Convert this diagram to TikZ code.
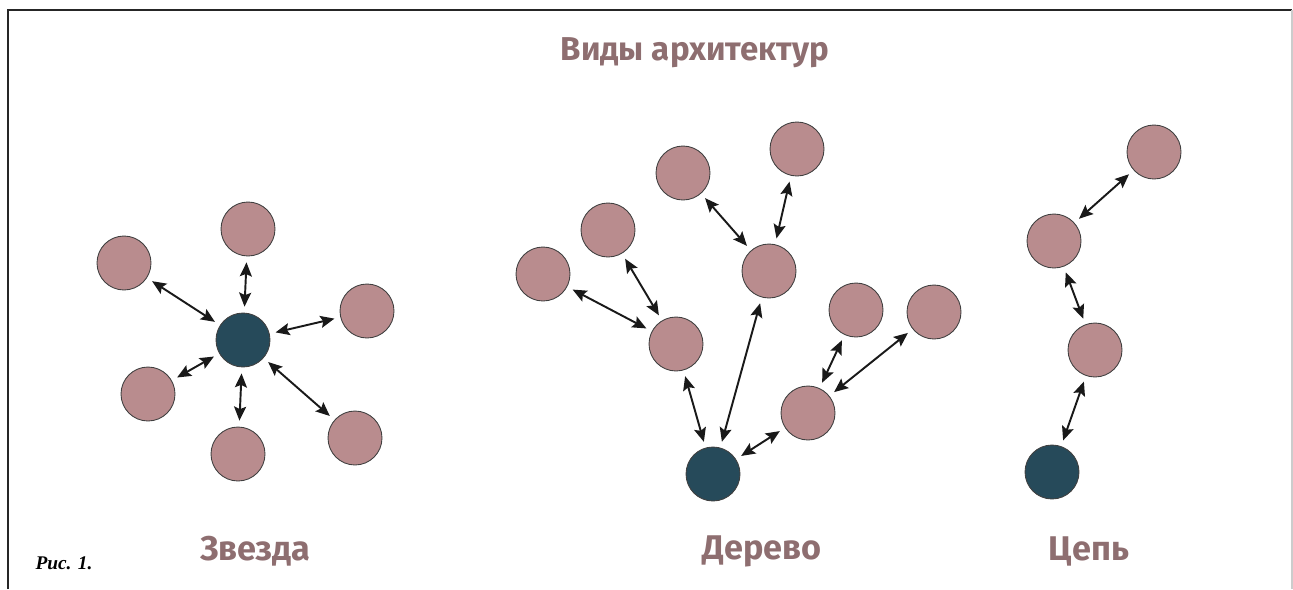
\documentclass[tikz,border=0pt]{standalone}
\usepackage{fontspec}
\setmainfont{Liberation Serif}
\newfontfamily\labfont{Fira Sans}
\usetikzlibrary{arrows.meta}
\definecolor{leaf}{HTML}{B98C8E}
\definecolor{hub}{HTML}{264A5A}
\definecolor{ttl}{HTML}{8E6E70}
\tikzset{
  leafnode/.style={circle,draw=black!75,line width=0.5pt,fill=leaf,minimum size=1.08cm,inner sep=0pt},
  hubnode/.style={circle,draw=black!75,line width=0.5pt,fill=hub,minimum size=1.08cm,inner sep=0pt},
  link/.style={{Stealth[length=0.28cm,width=0.24cm,inset=0.05cm]}-{Stealth[length=0.28cm,width=0.24cm,inset=0.05cm]},line width=1.1pt,black!90,shorten >=0.12cm,shorten <=0.12cm},
  bigtitle/.style={text=ttl,font=\labfont\bfseries\fontsize{18.8}{22}\selectfont},
  grouplabel/.style={text=ttl,font=\labfont\bfseries\fontsize{19.5}{24}\selectfont}
}
\begin{document}
\begin{tikzpicture}[x=0.02cm,y=-0.02cm]
\useasboundingbox (0,0) rectangle (1293,589);
\draw[line width=1pt,black!85] (8,589) -- (8,10) -- (1292,10);
\draw[line width=0.6pt,black!20] (1292,10) -- (1292,589);
\node[bigtitle] (title) at (695,53) {Виды архитектур};
% Star
\node[hubnode] (s0) at (243,340) {};
\node[leafnode] (s1) at (248,229) {};
\node[leafnode] (s2) at (124,263) {};
\node[leafnode] (s3) at (367,311) {};
\node[leafnode] (s4) at (148,394) {};
\node[leafnode] (s5) at (238,454) {};
\node[leafnode] (s6) at (355,438) {};
\foreach \n in {s1,s2,s3,s4,s5,s6} \draw[link] (s0) -- (\n);
% Tree
\node[hubnode] (t0) at (713,474) {};
\node[leafnode] (t1) at (808,413) {};
\node[leafnode] (t2) at (676,344) {};
\node[leafnode] (t3) at (769,271) {};
\node[leafnode] (t4) at (608,230) {};
\node[leafnode] (t5) at (543,274) {};
\node[leafnode] (t6) at (683,173) {};
\node[leafnode] (t7) at (797,149) {};
\node[leafnode] (t8) at (856,310) {};
\node[leafnode] (t9) at (934,312) {};
\draw[link] (t0) -- (t1);
\draw[link] (t0) -- (t2);
\draw[link] (t0) -- (t3);
\draw[link] (t2) -- (t4);
\draw[link] (t2) -- (t5);
\draw[link] (t3) -- (t6);
\draw[link] (t3) -- (t7);
\draw[link] (t1) -- (t8);
\draw[link] (t1) -- (t9);
% Chain
\node[hubnode] (c0) at (1052,472) {};
\node[leafnode] (c1) at (1095,350) {};
\node[leafnode] (c2) at (1054,241) {};
\node[leafnode] (c3) at (1154,152) {};
\draw[link] (c0) -- (c1);
\draw[link] (c1) -- (c2);
\draw[link] (c2) -- (c3);
% Labels
\node[grouplabel] (l1) at (255,551) {Звезда};
\node[grouplabel] (l2) at (762,551) {Дерево};
\node[grouplabel] (l3) at (1089,551) {Цепь};
\node[font=\bfseries\itshape\fontsize{11}{13}\selectfont] (fig) at (64,563) {Рис. 1.};
\end{tikzpicture}
\end{document}
